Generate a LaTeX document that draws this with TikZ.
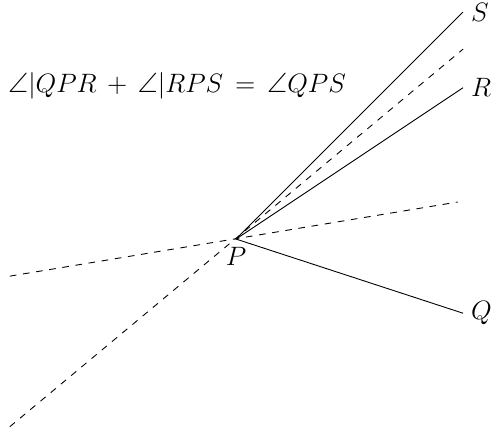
\documentclass[tikz,border=0pt]{standalone}
\usepackage{amsmath, amssymb}
\usepackage{tikz}
\usetikzlibrary{positioning, calc}

\begin{document}
\begin{tikzpicture}[
    x=1.2cm, y=1.2cm,
    every node/.style={font=\fontsize{12.6}{15}\selectfont},
    ray/.style={thin},
    aux/.style={thin, dashed},
    lbl/.style={inner sep=3.5pt}
]
\useasboundingbox (-3.12,-2.55) rectangle (3.37,3.16);

\coordinate (P) at (0,0);
\node[lbl, anchor=west] (S) at (3,3) {$S$};
\node[lbl, anchor=west] (R) at (3,2) {$R$};
\node[lbl, anchor=west] (Q) at (3,-0.98) {$Q$};
\node[lbl, below=0pt of P] (Plabel) {$P$};
\coordinate (bisTop) at (3,2.51);
\coordinate (bisBot) at (-2.99,-2.48);
\coordinate (lineR) at (2.93,0.49);
\coordinate (lineL) at (-2.99,-0.49);

\node (eq) at (-0.78,2.03) {$\angle|QPR \,+\, \angle|RPS \,=\, \angle QPS$};

% Rays
\draw[ray] (P) -- (S.west);
\draw[ray] (P) -- (R.west);
\draw[ray] (P) -- (Q.west);

% Dashed lines
\draw[aux] (bisBot) -- (bisTop);
\draw[aux] (lineL) -- (lineR);

\end{tikzpicture}
\end{document}
